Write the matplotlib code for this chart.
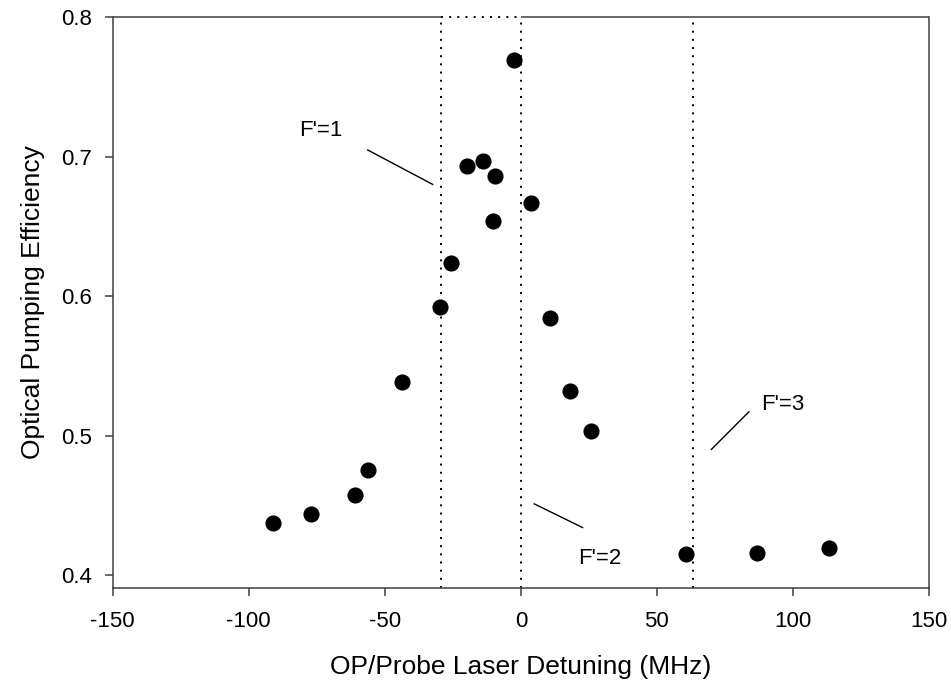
import matplotlib
matplotlib.use("Agg")
import matplotlib.pyplot as plt

plt.rcParams['font.family'] = ['Liberation Sans', 'DejaVu Sans']

# Data
detuning = [-91.0, -77.1, -60.8, -56.1, -43.6, -29.8, -25.7, -19.8, -14.0,
            -9.4, -10.3, -2.4, 3.8, 10.6, 18.0, 25.9, 60.6, 86.9, 113.2]
efficiency = [0.437, 0.444, 0.457, 0.475, 0.538, 0.592, 0.624, 0.693, 0.697,
              0.686, 0.654, 0.769, 0.667, 0.584, 0.532, 0.503, 0.415, 0.416, 0.419]
hyperfine_lines = [-29.4, 0.0, 63.4]
line_labels = ["F'=1", "F'=2", "F'=3"]
x_ticks = [-150, -100, -50, 0, 50, 100, 150]
y_ticks = [0.4, 0.5, 0.6, 0.7, 0.8]

fig = plt.figure(figsize=(9.51, 6.86), dpi=100)
ax = fig.add_axes([0.1185, 0.1429, 0.9769 - 0.1185, 0.9752 - 0.1429])

xlim = (-150, 150)
ylim = (0.3907, 0.8)
ax.set_xlim(*xlim)
ax.set_ylim(*ylim)

spine_col = '#404040'
for s in ['left', 'bottom', 'right']:
    ax.spines[s].set_color(spine_col)
    ax.spines[s].set_linewidth(1.1)
ax.spines['top'].set_visible(False)

dot_style = (0, (1, 3.2))
dot_lw = 1.4
# vertical hyperfine lines
for xv in hyperfine_lines:
    ax.plot([xv, xv], [ylim[0], ylim[1]], color='black', lw=dot_lw,
            linestyle=dot_style, zorder=1)

# top border: solid except dotted segment between F'=1 and F'=2 lines
ax.plot([xlim[0], hyperfine_lines[0]], [ylim[1], ylim[1]], color=spine_col, lw=1.1,
        clip_on=False, solid_capstyle='butt', zorder=2)
ax.plot([hyperfine_lines[0], hyperfine_lines[1]], [ylim[1], ylim[1]], color='black',
        lw=dot_lw, linestyle=dot_style, clip_on=False, zorder=2)
ax.plot([hyperfine_lines[1], xlim[1]], [ylim[1], ylim[1]], color=spine_col, lw=1.1,
        clip_on=False, solid_capstyle='butt', zorder=2)

ax.scatter(detuning, efficiency, s=135, color='black', zorder=3, linewidths=0)

ax.set_xticks(x_ticks)
ax.set_yticks(y_ticks)
ax.set_xticklabels([str(v) for v in x_ticks])
ax.set_yticklabels(['%.1f' % v for v in y_ticks])
ax.tick_params(direction='out', length=5.8, width=1.1, color=spine_col,
               labelsize=16, top=False, right=False)
ax.tick_params(axis='x', pad=11)
ax.tick_params(axis='y', pad=9)

ax.set_xlabel('OP/Probe Laser Detuning (MHz)', fontsize=19, labelpad=16)
ax.set_ylabel('Optical Pumping Efficiency', fontsize=19, labelpad=12)

# annotations
ann_fs = 16
ax.text(-73.5, 0.7185, line_labels[0], fontsize=ann_fs, ha='center', va='center')
ax.plot([-56.3, -32.4], [0.7047, 0.680], color='black', lw=1.0)
ax.text(29.0, 0.412, line_labels[1], fontsize=ann_fs, ha='center', va='center')
ax.plot([4.9, 22.7], [0.451, 0.434], color='black', lw=1.0)
ax.text(96.3, 0.522, line_labels[2], fontsize=ann_fs, ha='center', va='center')
ax.plot([83.8, 70.0], [0.517, 0.490], color='black', lw=1.0)

fig.savefig('out.png', dpi=100)
